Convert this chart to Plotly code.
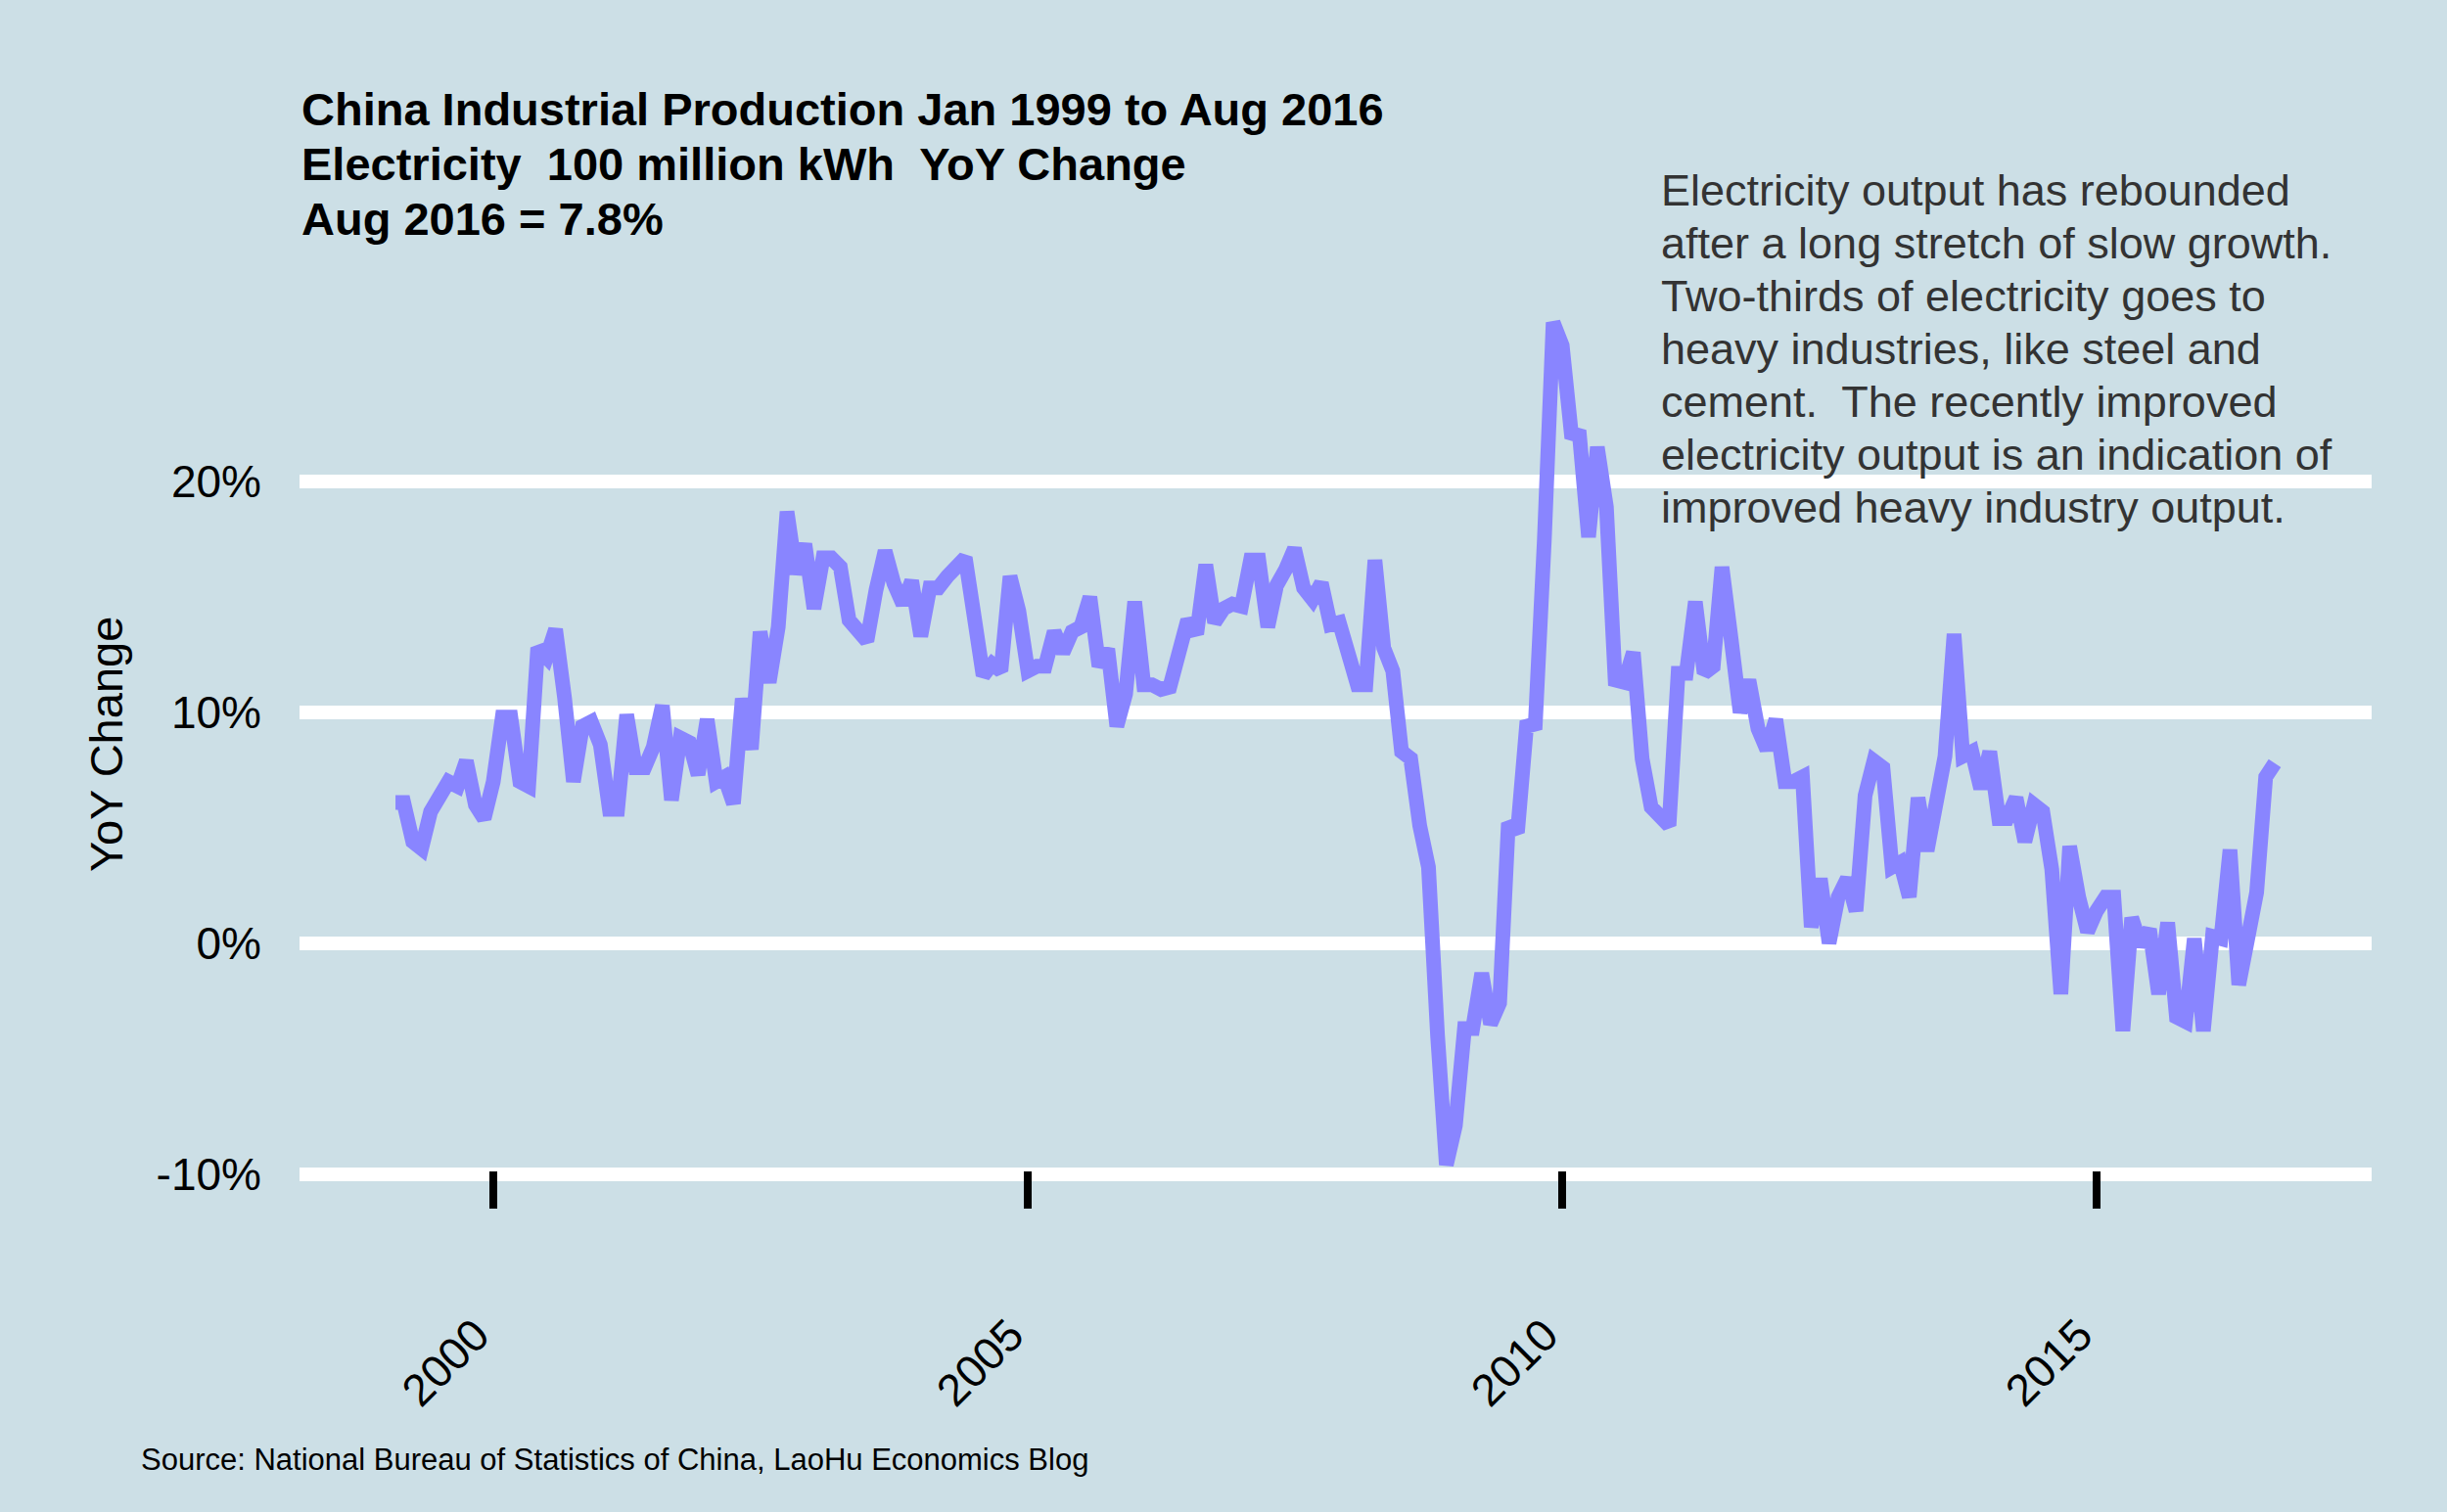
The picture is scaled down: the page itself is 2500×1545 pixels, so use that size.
import calendar
import plotly.graph_objects as go

# monthly YoY change of China's electricity output, %, Jan 1999 - Aug 2016
yoy_1999 = [6.1, 6.1, 4.4, 4.1, 5.7, 6.4, 7.0, 6.8, 7.9, 6.0, 5.4, 7.0]
yoy_2000 = [9.8, 9.8, 7.0, 6.8, 12.8, 12.4, 13.6, 10.6, 7.0, 9.4, 9.6, 8.6]
yoy_2001 = [5.8, 5.8, 9.9, 7.6, 7.6, 8.5, 10.3, 6.2, 8.9, 8.7, 7.3, 9.7]
yoy_2002 = [7.0, 7.2, 6.05, 10.6, 8.4, 13.5, 11.3, 13.7, 18.7, 16.0, 17.3, 14.5]
yoy_2003 = [16.7, 16.7, 16.3, 14.0, 13.4, 13.1, 15.3, 17.0, 15.6, 14.7, 15.7, 13.3]
yoy_2004 = [15.4, 15.4, 15.9, 16.3, 16.7, 14.2, 11.6, 12.1, 11.8, 15.9, 14.4, 11.8]
yoy_2005 = [12.0, 12.0, 13.5, 12.6, 13.5, 13.7, 15.0, 12.0, 12.75, 9.4, 10.8, 14.8]
yoy_2006 = [11.2, 11.2, 11.0, 11.1, 12.7, 14.0, 13.4, 16.4, 13.9, 14.5, 14.7, 14.6]
yoy_2007 = [16.6, 16.6, 13.7, 15.5, 16.2, 17.1, 15.4, 14.9, 15.6, 13.8, 13.9, 12.3]
yoy_2008 = [11.2, 11.2, 16.6, 12.8, 11.8, 8.3, 8.0, 5.1, 3.3, -4.0, -9.6, -7.9]
yoy_2009 = [-3.7, -3.7, -1.3, -3.5, -2.6, 5.2, 4.8, 9.4, 9.5, 17.5, 26.9, 25.9]
yoy_2010 = [22.1, 22.0, 17.6, 21.5, 18.9, 11.4, 11.3, 12.6, 8.0, 5.9, 5.6, 5.1]
yoy_2011 = [11.7, 11.7, 14.8, 11.7, 12.0, 16.3, 13.2, 10.0, 11.4, 9.3, 8.4, 9.7]
yoy_2012 = [7.0, 7.0, 7.2, 0.7, 2.8, 0.0, 2.0, 2.8, 1.4, 6.4, 7.9, 7.6]
yoy_2013 = [3.3, 3.5, 2.0, 6.3, 4.0, 6.0, 8.1, 13.4, 8.1, 8.3, 6.7, 8.3]
yoy_2014 = [5.4, 5.4, 6.3, 4.4, 6.0, 5.7, 3.2, -2.2, 4.2, 2.0, 0.5, 1.4]
yoy_2015 = [2.0, 2.0, -3.8, 1.1, -0.1, 0.6, -2.2, 0.9, -3.2, -3.4, 0.2, -3.8]
yoy_2016 = [0.3, 0.2, 4.05, -1.8, 0.3, 2.2, 7.2, 7.8]

X_TICK_DATES = ["2000-01-01", "2005-01-01", "2010-01-01", "2015-01-01"]
X_TICK_LABELS = ["2000", "2005", "2010", "2015"]
Y_TICKS = [-10, 0, 10, 20]
Y_TICK_LABELS = ["-10%", "0%", "10%", "20%"]

TITLE_LINES = [
    "China Industrial Production Jan 1999 to Aug 2016",
    "Electricity  100 million kWh  YoY Change",
    "Aug 2016 = 7.8%",
]
NOTE_LINES = [
    "Electricity output has rebounded",
    "after a long stretch of slow growth.",
    "Two-thirds of electricity goes to",
    "heavy industries, like steel and",
    "cement.  The recently improved",
    "electricity output is an indication of",
    "improved heavy industry output.",
]
SOURCE = "Source: National Bureau of Statistics of China, LaoHu Economics Blog"

BG = "#CCDFE6"
LINE_COLOR = "#8985FF"
FONT = "Liberation Sans, Arial, Helvetica, sans-serif"


def month_end(year, month):
    return f"{year}-{month:02d}-{calendar.monthrange(year, month)[1]:02d}"


yearly = [yoy_1999, yoy_2000, yoy_2001, yoy_2002, yoy_2003, yoy_2004, yoy_2005,
          yoy_2006, yoy_2007, yoy_2008, yoy_2009, yoy_2010, yoy_2011, yoy_2012,
          yoy_2013, yoy_2014, yoy_2015, yoy_2016]

dates, values = [], []
for year, vals in zip(range(1999, 2017), yearly):
    for m, v in enumerate(vals, start=1):
        dates.append(month_end(year, m))
        values.append(v)

fig = go.Figure()
fig.add_trace(go.Scatter(x=dates, y=values, mode="lines",
                         line=dict(color=LINE_COLOR, width=15)))

fig.update_layout(
    width=2500, height=1545,
    paper_bgcolor=BG, plot_bgcolor=BG,
    margin=dict(l=306, r=77, t=287, b=310),
    showlegend=False,
    font=dict(family=FONT, size=46, color="black"),
)

fig.update_xaxes(
    range=["1998-03-09", "2017-07-28"],
    tickvals=X_TICK_DATES, ticktext=X_TICK_LABELS,
    tickangle=-45, ticks="inside", ticklen=38, tickwidth=8, tickcolor="black",
    ticklabelstandoff=92, ticklabelshift=-18,
    showgrid=False, zeroline=False, showline=False,
)
fig.update_yaxes(
    range=[-11.5, 28.7],
    tickvals=Y_TICKS, ticktext=Y_TICK_LABELS,
    gridcolor="white", gridwidth=14,
    zeroline=False, showline=False, ticks="",
    ticklabelstandoff=38,
)

# title, three bold lines above the panel
for k, line in enumerate(TITLE_LINES):
    fig.add_annotation(text=f"<b>{line}</b>", xref="paper", yref="paper",
                       x=0, y=1.1846 - k * 0.0588, xanchor="left", yanchor="middle",
                       showarrow=False, font=dict(size=47, color="black"))

# commentary
for k, line in enumerate(NOTE_LINES):
    fig.add_annotation(text=line, xref="paper", yref="paper",
                       x=0.656, y=1.0976 - k * 0.05696, xanchor="left", yanchor="middle",
                       showarrow=False, font=dict(size=45, color="#333333"))

fig.add_annotation(text="YoY Change", xref="paper", yref="paper",
                   x=-0.0935, y=0.5, xanchor="center", yanchor="middle",
                   textangle=-90, showarrow=False,
                   font=dict(size=47, color="black"))

fig.add_annotation(text=SOURCE, xref="paper", yref="paper",
                   x=-0.0775, y=-0.271, xanchor="left", yanchor="middle",
                   showarrow=False, font=dict(size=31, color="black"))

fig.write_html("out.html", config={"displayModeBar": False},
               post_script="document.body.style.margin='0';")
